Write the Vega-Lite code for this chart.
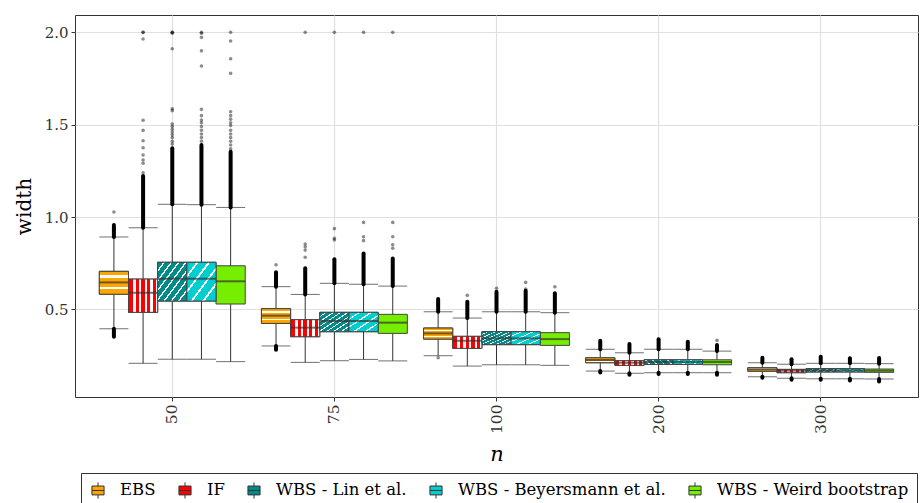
{
  "$schema": "https://vega.github.io/schema/vega-lite/v6.json",
  "width": 843,
  "height": 382,
  "autosize": {"type": "none"},
  "padding": {"left": 75, "top": 15, "right": 2, "bottom": 106},
  "background": "white",
  "config": {
    "font": "DejaVu Serif",
    "view": {"stroke": "#333333", "strokeWidth": 1},
    "axis": {"labelFont": "DejaVu Serif", "titleFont": "DejaVu Serif", "gridColor": "#e0e0e0", "gridWidth": 1.2, "domain": false, "tickColor": "#333333", "tickSize": 4, "labelColor": "#333333", "titleColor": "#000000", "titleFontWeight": "normal"},
    "legend": {"labelFont": "DejaVu Serif", "titleFont": "DejaVu Serif"}
  },
  "datasets": {
    "boxes": [
      {"n": "50", "method": "EBS", "lw": 0.395, "q1": 0.582, "med": 0.646, "q3": 0.706, "uw": 0.892},
      {"n": "50", "method": "IF", "lw": 0.208, "q1": 0.484, "med": 0.590, "q3": 0.664, "uw": 0.942},
      {"n": "50", "method": "WBS - Lin et al.", "lw": 0.230, "q1": 0.545, "med": 0.666, "q3": 0.755, "uw": 1.069},
      {"n": "50", "method": "WBS - Beyersmann et al.", "lw": 0.230, "q1": 0.545, "med": 0.666, "q3": 0.755, "uw": 1.067},
      {"n": "50", "method": "WBS - Weird bootstrap", "lw": 0.217, "q1": 0.529, "med": 0.652, "q3": 0.736, "uw": 1.052},
      {"n": "75", "method": "EBS", "lw": 0.302, "q1": 0.424, "med": 0.466, "q3": 0.504, "uw": 0.623},
      {"n": "75", "method": "IF", "lw": 0.213, "q1": 0.352, "med": 0.401, "q3": 0.444, "uw": 0.581},
      {"n": "75", "method": "WBS - Lin et al.", "lw": 0.222, "q1": 0.379, "med": 0.437, "q3": 0.484, "uw": 0.641},
      {"n": "75", "method": "WBS - Beyersmann et al.", "lw": 0.229, "q1": 0.379, "med": 0.437, "q3": 0.484, "uw": 0.636},
      {"n": "75", "method": "WBS - Weird bootstrap", "lw": 0.221, "q1": 0.370, "med": 0.428, "q3": 0.473, "uw": 0.626},
      {"n": "100", "method": "EBS", "lw": 0.249, "q1": 0.339, "med": 0.370, "q3": 0.399, "uw": 0.487},
      {"n": "100", "method": "IF", "lw": 0.193, "q1": 0.289, "med": 0.330, "q3": 0.354, "uw": 0.453},
      {"n": "100", "method": "WBS - Lin et al.", "lw": 0.200, "q1": 0.309, "med": 0.343, "q3": 0.379, "uw": 0.487},
      {"n": "100", "method": "WBS - Beyersmann et al.", "lw": 0.200, "q1": 0.309, "med": 0.343, "q3": 0.379, "uw": 0.487},
      {"n": "100", "method": "WBS - Weird bootstrap", "lw": 0.197, "q1": 0.305, "med": 0.339, "q3": 0.374, "uw": 0.482},
      {"n": "200", "method": "EBS", "lw": 0.166, "q1": 0.211, "med": 0.226, "q3": 0.238, "uw": 0.284},
      {"n": "200", "method": "IF", "lw": 0.154, "q1": 0.197, "med": 0.211, "q3": 0.222, "uw": 0.265},
      {"n": "200", "method": "WBS - Lin et al.", "lw": 0.157, "q1": 0.202, "med": 0.215, "q3": 0.227, "uw": 0.284},
      {"n": "200", "method": "WBS - Beyersmann et al.", "lw": 0.157, "q1": 0.202, "med": 0.215, "q3": 0.227, "uw": 0.284},
      {"n": "200", "method": "WBS - Weird bootstrap", "lw": 0.157, "q1": 0.200, "med": 0.215, "q3": 0.227, "uw": 0.274},
      {"n": "300", "method": "EBS", "lw": 0.135, "q1": 0.165, "med": 0.175, "q3": 0.184, "uw": 0.211},
      {"n": "300", "method": "IF", "lw": 0.127, "q1": 0.157, "med": 0.168, "q3": 0.175, "uw": 0.203},
      {"n": "300", "method": "WBS - Lin et al.", "lw": 0.124, "q1": 0.161, "med": 0.170, "q3": 0.179, "uw": 0.208},
      {"n": "300", "method": "WBS - Beyersmann et al.", "lw": 0.124, "q1": 0.161, "med": 0.170, "q3": 0.179, "uw": 0.208},
      {"n": "300", "method": "WBS - Weird bootstrap", "lw": 0.123, "q1": 0.159, "med": 0.168, "q3": 0.177, "uw": 0.206}
    ],
    "bands": [
      {"n": "50", "method": "EBS", "lo": 0.892, "hi": 0.957},
      {"n": "50", "method": "EBS", "lo": 0.352, "hi": 0.395},
      {"n": "50", "method": "IF", "lo": 0.942, "hi": 1.222},
      {"n": "50", "method": "WBS - Lin et al.", "lo": 1.069, "hi": 1.372},
      {"n": "50", "method": "WBS - Beyersmann et al.", "lo": 1.067, "hi": 1.39},
      {"n": "50", "method": "WBS - Weird bootstrap", "lo": 1.052, "hi": 1.354},
      {"n": "75", "method": "EBS", "lo": 0.623, "hi": 0.701},
      {"n": "75", "method": "EBS", "lo": 0.281, "hi": 0.302},
      {"n": "75", "method": "IF", "lo": 0.581, "hi": 0.722},
      {"n": "75", "method": "WBS - Lin et al.", "lo": 0.641, "hi": 0.772},
      {"n": "75", "method": "WBS - Beyersmann et al.", "lo": 0.636, "hi": 0.803},
      {"n": "75", "method": "WBS - Weird bootstrap", "lo": 0.626, "hi": 0.776},
      {"n": "100", "method": "EBS", "lo": 0.487, "hi": 0.556},
      {"n": "100", "method": "IF", "lo": 0.453, "hi": 0.541},
      {"n": "100", "method": "WBS - Lin et al.", "lo": 0.487, "hi": 0.596},
      {"n": "100", "method": "WBS - Beyersmann et al.", "lo": 0.487, "hi": 0.601},
      {"n": "100", "method": "WBS - Weird bootstrap", "lo": 0.482, "hi": 0.587},
      {"n": "200", "method": "EBS", "lo": 0.284, "hi": 0.330},
      {"n": "200", "method": "EBS", "lo": 0.158, "hi": 0.166},
      {"n": "200", "method": "IF", "lo": 0.265, "hi": 0.312},
      {"n": "200", "method": "IF", "lo": 0.146, "hi": 0.154},
      {"n": "200", "method": "WBS - Lin et al.", "lo": 0.284, "hi": 0.338},
      {"n": "200", "method": "WBS - Lin et al.", "lo": 0.150, "hi": 0.157},
      {"n": "200", "method": "WBS - Beyersmann et al.", "lo": 0.284, "hi": 0.325},
      {"n": "200", "method": "WBS - Beyersmann et al.", "lo": 0.150, "hi": 0.157},
      {"n": "200", "method": "WBS - Weird bootstrap", "lo": 0.274, "hi": 0.307},
      {"n": "200", "method": "WBS - Weird bootstrap", "lo": 0.146, "hi": 0.157},
      {"n": "300", "method": "EBS", "lo": 0.211, "hi": 0.238},
      {"n": "300", "method": "EBS", "lo": 0.130, "hi": 0.135},
      {"n": "300", "method": "IF", "lo": 0.203, "hi": 0.230},
      {"n": "300", "method": "IF", "lo": 0.119, "hi": 0.127},
      {"n": "300", "method": "WBS - Lin et al.", "lo": 0.208, "hi": 0.244},
      {"n": "300", "method": "WBS - Lin et al.", "lo": 0.119, "hi": 0.124},
      {"n": "300", "method": "WBS - Beyersmann et al.", "lo": 0.208, "hi": 0.235},
      {"n": "300", "method": "WBS - Beyersmann et al.", "lo": 0.115, "hi": 0.124},
      {"n": "300", "method": "WBS - Weird bootstrap", "lo": 0.206, "hi": 0.237},
      {"n": "300", "method": "WBS - Weird bootstrap", "lo": 0.110, "hi": 0.123}
    ],
    "points": [
      {"n": "50", "method": "EBS", "v": 1.027},
      {"n": "50", "method": "IF", "v": 1.24}, {"n": "50", "method": "IF", "v": 1.291}, {"n": "50", "method": "IF", "v": 1.309}, {"n": "50", "method": "IF", "v": 1.336}, {"n": "50", "method": "IF", "v": 1.375}, {"n": "50", "method": "IF", "v": 1.413}, {"n": "50", "method": "IF", "v": 1.469}, {"n": "50", "method": "IF", "v": 1.524}, {"n": "50", "method": "IF", "v": 1.964}, {"n": "50", "method": "IF", "v": 2.0}, {"n": "50", "method": "IF", "v": 2.0},
      {"n": "50", "method": "WBS - Lin et al.", "v": 1.395}, {"n": "50", "method": "WBS - Lin et al.", "v": 1.41}, {"n": "50", "method": "WBS - Lin et al.", "v": 1.43}, {"n": "50", "method": "WBS - Lin et al.", "v": 1.445}, {"n": "50", "method": "WBS - Lin et al.", "v": 1.46}, {"n": "50", "method": "WBS - Lin et al.", "v": 1.475}, {"n": "50", "method": "WBS - Lin et al.", "v": 1.49}, {"n": "50", "method": "WBS - Lin et al.", "v": 1.504}, {"n": "50", "method": "WBS - Lin et al.", "v": 1.576}, {"n": "50", "method": "WBS - Lin et al.", "v": 1.586}, {"n": "50", "method": "WBS - Lin et al.", "v": 1.911}, {"n": "50", "method": "WBS - Lin et al.", "v": 2.0}, {"n": "50", "method": "WBS - Lin et al.", "v": 2.0}, {"n": "50", "method": "WBS - Lin et al.", "v": 1.995},
      {"n": "50", "method": "WBS - Beyersmann et al.", "v": 1.41}, {"n": "50", "method": "WBS - Beyersmann et al.", "v": 1.43}, {"n": "50", "method": "WBS - Beyersmann et al.", "v": 1.45}, {"n": "50", "method": "WBS - Beyersmann et al.", "v": 1.47}, {"n": "50", "method": "WBS - Beyersmann et al.", "v": 1.49}, {"n": "50", "method": "WBS - Beyersmann et al.", "v": 1.51}, {"n": "50", "method": "WBS - Beyersmann et al.", "v": 1.525}, {"n": "50", "method": "WBS - Beyersmann et al.", "v": 1.549}, {"n": "50", "method": "WBS - Beyersmann et al.", "v": 1.583}, {"n": "50", "method": "WBS - Beyersmann et al.", "v": 1.818}, {"n": "50", "method": "WBS - Beyersmann et al.", "v": 1.9}, {"n": "50", "method": "WBS - Beyersmann et al.", "v": 1.973}, {"n": "50", "method": "WBS - Beyersmann et al.", "v": 1.995}, {"n": "50", "method": "WBS - Beyersmann et al.", "v": 2.0},
      {"n": "50", "method": "WBS - Weird bootstrap", "v": 1.37}, {"n": "50", "method": "WBS - Weird bootstrap", "v": 1.39}, {"n": "50", "method": "WBS - Weird bootstrap", "v": 1.41}, {"n": "50", "method": "WBS - Weird bootstrap", "v": 1.43}, {"n": "50", "method": "WBS - Weird bootstrap", "v": 1.45}, {"n": "50", "method": "WBS - Weird bootstrap", "v": 1.47}, {"n": "50", "method": "WBS - Weird bootstrap", "v": 1.495}, {"n": "50", "method": "WBS - Weird bootstrap", "v": 1.51}, {"n": "50", "method": "WBS - Weird bootstrap", "v": 1.53}, {"n": "50", "method": "WBS - Weird bootstrap", "v": 1.55}, {"n": "50", "method": "WBS - Weird bootstrap", "v": 1.57}, {"n": "50", "method": "WBS - Weird bootstrap", "v": 1.778}, {"n": "50", "method": "WBS - Weird bootstrap", "v": 1.857}, {"n": "50", "method": "WBS - Weird bootstrap", "v": 1.953}, {"n": "50", "method": "WBS - Weird bootstrap", "v": 2.0},
      {"n": "75", "method": "EBS", "v": 0.742},
      {"n": "75", "method": "IF", "v": 0.782}, {"n": "75", "method": "IF", "v": 0.821}, {"n": "75", "method": "IF", "v": 0.839}, {"n": "75", "method": "IF", "v": 0.854}, {"n": "75", "method": "IF", "v": 2.0},
      {"n": "75", "method": "WBS - Lin et al.", "v": 0.876}, {"n": "75", "method": "WBS - Lin et al.", "v": 0.885}, {"n": "75", "method": "WBS - Lin et al.", "v": 0.937}, {"n": "75", "method": "WBS - Lin et al.", "v": 2.0},
      {"n": "75", "method": "WBS - Beyersmann et al.", "v": 0.872}, {"n": "75", "method": "WBS - Beyersmann et al.", "v": 0.893}, {"n": "75", "method": "WBS - Beyersmann et al.", "v": 0.971}, {"n": "75", "method": "WBS - Beyersmann et al.", "v": 2.0},
      {"n": "75", "method": "WBS - Weird bootstrap", "v": 0.831}, {"n": "75", "method": "WBS - Weird bootstrap", "v": 0.85}, {"n": "75", "method": "WBS - Weird bootstrap", "v": 0.893}, {"n": "75", "method": "WBS - Weird bootstrap", "v": 0.971}, {"n": "75", "method": "WBS - Weird bootstrap", "v": 2.0},
      {"n": "100", "method": "EBS", "v": 0.238},
      {"n": "100", "method": "IF", "v": 0.576},
      {"n": "100", "method": "WBS - Lin et al.", "v": 0.614},
      {"n": "100", "method": "WBS - Beyersmann et al.", "v": 0.61}, {"n": "100", "method": "WBS - Beyersmann et al.", "v": 0.646},
      {"n": "100", "method": "WBS - Weird bootstrap", "v": 0.622},
      {"n": "200", "method": "WBS - Weird bootstrap", "v": 0.332}
    ]
  },
  "encoding": {
    "x": {"field": "n", "type": "nominal", "sort": ["50", "75", "100", "200", "300"],
      "scale": {"paddingInner": 0.1, "paddingOuter": 0.15},
      "axis": {"title": "n", "titleFont": "DejaVu Serif", "labelFont": "DejaVu Serif", "titleFontStyle": "italic", "titleFontWeight": "normal", "titleFontSize": 21, "labelFontSize": 15.5, "labelAngle": 270, "labelPadding": 3, "titlePadding": 10, "bandPosition": 0.5, "grid": true}},
    "xOffset": {"field": "method", "type": "nominal", "sort": ["EBS", "IF", "WBS - Lin et al.", "WBS - Beyersmann et al.", "WBS - Weird bootstrap"], "scale": {"paddingInner": 0, "paddingOuter": 0}}
  },
  "layer": [
    {
      "data": {"name": "boxes"},
      "mark": {"type": "rule", "color": "#333333", "strokeWidth": 1},
      "encoding": {
        "y": {"field": "lw", "type": "quantitative", "scale": {"domain": [0.0255, 2.094], "nice": false, "zero": false},
          "axis": {"title": "width", "titleFont": "DejaVu Serif", "labelFont": "DejaVu Serif", "titleFontWeight": "normal", "titleFontSize": 20, "labelFontSize": 15, "values": [0.5, 1, 1.5, 2], "format": ".1f", "labelPadding": 3, "titlePadding": 10, "grid": true}},
        "y2": {"field": "uw"}
      }
    },
    {
      "data": {"name": "boxes"},
      "mark": {"type": "tick", "color": "#333333", "thickness": 1, "size": 29},
      "encoding": {"y": {"field": "lw", "type": "quantitative"}}
    },
    {
      "data": {"name": "boxes"},
      "mark": {"type": "tick", "color": "#333333", "thickness": 1, "size": 29},
      "encoding": {"y": {"field": "uw", "type": "quantitative"}}
    },
    {
      "data": {"name": "boxes"},
      "mark": {"type": "bar", "stroke": "#444444", "strokeWidth": 1},
      "encoding": {
        "y": {"field": "q1", "type": "quantitative"},
        "y2": {"field": "q3"},
        "fill": {"field": "method", "type": "nominal", "sort": ["EBS", "IF", "WBS - Lin et al.", "WBS - Beyersmann et al.", "WBS - Weird bootstrap"],
          "scale": {"domain": ["EBS", "IF", "WBS - Lin et al.", "WBS - Beyersmann et al.", "WBS - Weird bootstrap"], "range": ["#FFA500", "#FF0000", "#008B8B", "#00CED1", "#76EE00"]},
          "legend": {"title": null, "orient": "none", "legendX": 6, "legendY": 458, "direction": "horizontal", "columns": 5,
            "symbolType": "M-0.75,-0.55H0.75V0.55H-0.75Z M-0.75,0H0.75 M0,-0.55V-1 M0,0.55V1", "symbolSize": 260, "symbolStrokeColor": "#333333", "symbolStrokeWidth": 1,
            "labelFont": "DejaVu Serif", "labelFontSize": 16.5, "labelColor": "#000000", "labelOffset": 13, "columnPadding": 20, "padding": 8, "strokeColor": "#333333", "labelLimit": 400}}
      }
    },
    {
      "data": {"name": "boxes"},
      "transform": [{"filter": "datum.method === 'EBS'"}],
      "mark": {"type": "bar", "stroke": "#444444", "strokeWidth": 1,
        "fill": {"gradient": "linear", "x1": 0, "y1": 0, "x2": 0, "y2": 1, "stops": [
          {"offset": 0, "color": "#FFA500"}, {"offset": 0.17, "color": "#FFA500"}, {"offset": 0.17, "color": "#FFFFFF"}, {"offset": 0.27, "color": "#FFFFFF"}, {"offset": 0.27, "color": "#FFA500"},
          {"offset": 0.68, "color": "#FFA500"}, {"offset": 0.68, "color": "#FFFFFF"}, {"offset": 0.78, "color": "#FFFFFF"}, {"offset": 0.78, "color": "#FFA500"}, {"offset": 1, "color": "#FFA500"}]}},
      "encoding": {"y": {"field": "q1", "type": "quantitative"}, "y2": {"field": "q3"}}
    },
    {
      "data": {"name": "boxes"},
      "transform": [{"filter": "datum.method === 'IF'"}],
      "mark": {"type": "bar", "stroke": "#444444", "strokeWidth": 1,
        "fill": {"gradient": "linear", "x1": 0, "y1": 0, "x2": 1, "y2": 0, "stops": [
          {"offset": 0, "color": "#FF0000"}, {"offset": 0.15, "color": "#FF0000"}, {"offset": 0.15, "color": "#FFFFFF"}, {"offset": 0.24, "color": "#FFFFFF"}, {"offset": 0.24, "color": "#FF0000"},
          {"offset": 0.35, "color": "#FF0000"}, {"offset": 0.35, "color": "#FFFFFF"}, {"offset": 0.44, "color": "#FFFFFF"}, {"offset": 0.44, "color": "#FF0000"},
          {"offset": 0.55, "color": "#FF0000"}, {"offset": 0.55, "color": "#FFFFFF"}, {"offset": 0.64, "color": "#FFFFFF"}, {"offset": 0.64, "color": "#FF0000"},
          {"offset": 0.75, "color": "#FF0000"}, {"offset": 0.75, "color": "#FFFFFF"}, {"offset": 0.84, "color": "#FFFFFF"}, {"offset": 0.84, "color": "#FF0000"},
          {"offset": 0.93, "color": "#FF0000"}, {"offset": 0.93, "color": "#FFFFFF"}, {"offset": 1, "color": "#FFFFFF"}]}},
      "encoding": {"y": {"field": "q1", "type": "quantitative"}, "y2": {"field": "q3"}}
    },
    {
      "data": {"name": "boxes"},
      "transform": [{"filter": "datum.method === 'WBS - Lin et al.'"}],
      "mark": {"type": "bar", "stroke": "#444444", "strokeWidth": 1,
        "fill": {"gradient": "linear", "x1": 0, "y1": 0, "x2": 1, "y2": 1, "stops": [
          {"offset": 0, "color": "#008B8B"}, {"offset": 0.095, "color": "#008B8B"}, {"offset": 0.095, "color": "#FFFFFF"}, {"offset": 0.125, "color": "#FFFFFF"}, {"offset": 0.125, "color": "#008B8B"},
          {"offset": 0.22, "color": "#008B8B"}, {"offset": 0.22, "color": "#FFFFFF"}, {"offset": 0.25, "color": "#FFFFFF"}, {"offset": 0.25, "color": "#008B8B"},
          {"offset": 0.345, "color": "#008B8B"}, {"offset": 0.345, "color": "#FFFFFF"}, {"offset": 0.375, "color": "#FFFFFF"}, {"offset": 0.375, "color": "#008B8B"},
          {"offset": 0.47, "color": "#008B8B"}, {"offset": 0.47, "color": "#FFFFFF"}, {"offset": 0.5, "color": "#FFFFFF"}, {"offset": 0.5, "color": "#008B8B"},
          {"offset": 0.595, "color": "#008B8B"}, {"offset": 0.595, "color": "#FFFFFF"}, {"offset": 0.625, "color": "#FFFFFF"}, {"offset": 0.625, "color": "#008B8B"},
          {"offset": 0.72, "color": "#008B8B"}, {"offset": 0.72, "color": "#FFFFFF"}, {"offset": 0.75, "color": "#FFFFFF"}, {"offset": 0.75, "color": "#008B8B"},
          {"offset": 0.845, "color": "#008B8B"}, {"offset": 0.845, "color": "#FFFFFF"}, {"offset": 0.875, "color": "#FFFFFF"}, {"offset": 0.875, "color": "#008B8B"},
          {"offset": 1, "color": "#008B8B"}]}},
      "encoding": {"y": {"field": "q1", "type": "quantitative"}, "y2": {"field": "q3"}}
    },
    {
      "data": {"name": "boxes"},
      "transform": [{"filter": "datum.method === 'WBS - Beyersmann et al.'"}],
      "mark": {"type": "bar", "stroke": "#444444", "strokeWidth": 1,
        "fill": {"gradient": "linear", "x1": 0, "y1": 0, "x2": 1, "y2": 1, "stops": [
          {"offset": 0, "color": "#00CED1"}, {"offset": 0.16, "color": "#00CED1"}, {"offset": 0.16, "color": "#FFFFFF"}, {"offset": 0.2, "color": "#FFFFFF"}, {"offset": 0.2, "color": "#00CED1"},
          {"offset": 0.36, "color": "#00CED1"}, {"offset": 0.36, "color": "#FFFFFF"}, {"offset": 0.4, "color": "#FFFFFF"}, {"offset": 0.4, "color": "#00CED1"},
          {"offset": 0.56, "color": "#00CED1"}, {"offset": 0.56, "color": "#FFFFFF"}, {"offset": 0.6, "color": "#FFFFFF"}, {"offset": 0.6, "color": "#00CED1"},
          {"offset": 0.76, "color": "#00CED1"}, {"offset": 0.76, "color": "#FFFFFF"}, {"offset": 0.8, "color": "#FFFFFF"}, {"offset": 0.8, "color": "#00CED1"},
          {"offset": 1, "color": "#00CED1"}]}},
      "encoding": {"y": {"field": "q1", "type": "quantitative"}, "y2": {"field": "q3"}}
    },
    {
      "data": {"name": "boxes"},
      "mark": {"type": "tick", "color": "#333333", "thickness": 2, "size": 29},
      "encoding": {"y": {"field": "med", "type": "quantitative"}}
    },
    {
      "data": {"name": "bands"},
      "mark": {"type": "rule", "color": "#000000", "strokeWidth": 4, "strokeCap": "round"},
      "encoding": {"y": {"field": "lo", "type": "quantitative"}, "y2": {"field": "hi"}}
    },
    {
      "data": {"name": "points"},
      "mark": {"type": "circle", "color": "#000000", "opacity": 0.45, "size": 13},
      "encoding": {"y": {"field": "v", "type": "quantitative"}}
    }
  ]
}
